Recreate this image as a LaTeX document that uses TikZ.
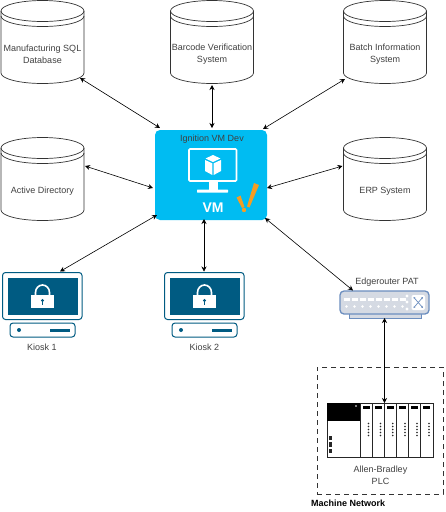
\documentclass[tikz,border=0pt]{standalone}
\usepackage{fontspec}
\usetikzlibrary{arrows.meta,calc}
\setmainfont{Liberation Sans}
\definecolor{vmblue}{HTML}{00BCF2}
\definecolor{kiosk}{HTML}{005B82}
\definecolor{routerb}{HTML}{6C8EBF}
\definecolor{routerf}{HTML}{D5DAE3}
\definecolor{vmorange}{HTML}{F59D23}
\definecolor{txt}{HTML}{404040}
\tikzset{
  lbl/.style={font=\fontsize{9}{12}\selectfont,text=txt,align=center,inner sep=0pt},
  cyl/.style={draw=black!80,line width=0.7pt,fill=white},
  link/.style={draw=black,line width=0.6pt,{Stealth[length=5pt,width=5pt]}-{Stealth[length=5pt,width=5pt]}},
  box/.style={inner sep=0pt,outer sep=0pt,minimum width=#1},
}
\newcommand{\dbnode}[4]{% name, x, y (top-left), text
  \begin{scope}[shift={(#2,#3)}]
    \path[cyl] (0,11) arc[x radius=41.5,y radius=10.5,start angle=180,end angle=360]
      -- (83,73) arc[x radius=41.5,y radius=10.5,start angle=0,end angle=180] -- cycle;
    \path[cyl,fill=none] (0,11) arc[x radius=41.5,y radius=10.5,start angle=180,end angle=0];
    \path[cyl,fill=none] (0,16) arc[x radius=41.5,y radius=10.5,start angle=180,end angle=0];
  \end{scope}
  \node[box=83,minimum height=84,lbl] (#1) at (#2+41.5,#3+42) {};
  \node[lbl] (#1t) at (#2+41.5,#3+54) {#4};
}
\newcommand{\kiosknode}[4]{% name, x offset, text cx, text
  \begin{scope}[shift={(#2,0)}]
    \draw[kiosk,line width=1pt,fill=white,rounded corners=3pt] (2.5,272.5) rectangle (82,319.5);
    \fill[kiosk] (7.5,277.5) rectangle (77.5,315);
    \draw[white,line width=1.6pt] (35.5,295) -- (35.5,292.5) arc[x radius=7,y radius=7.5,start angle=180,end angle=360] -- (49.5,295);
    \fill[white] (31,295) rectangle (54,308);
    \fill[kiosk] (42.5,300.5) circle (1.6);
    \fill[kiosk] (41.8,300.5) rectangle (43.2,304.5);
    \draw[kiosk,line width=1pt,fill=white,rounded corners=3pt] (10,323) rectangle (75,337);
    \fill[kiosk] (19,330) circle (2);
    \fill[kiosk] (49.5,329) rectangle (69.5,331.5);
  \end{scope}
  \node[box=80,minimum height=66,lbl] (#1) at (#2+42.5,305) {};
  \node[lbl] (#1t) at (#2+#3,347) {#4};
}
\begin{document}
\begin{tikzpicture}[x=1pt,y=-1pt]
\useasboundingbox[fill=white] (0,0) rectangle (445,512);

\dbnode{sql}{1}{0}{Manufacturing SQL\\Database}
\dbnode{barcode}{170.5}{0}{Barcode Verification\\System}
\dbnode{batch}{343.5}{0}{Batch Information\\System}
\dbnode{ad}{1}{137}{Active Directory}
\dbnode{erp}{343.5}{137}{ERP System}

% VM
\node[fill=vmblue,rounded corners=5pt,minimum width=112,minimum height=90,inner sep=0pt,outer sep=0pt] (vm) at (211,175) {};
\node[lbl] (vmt) at (212,139) {Ignition VM Dev};
\draw[white,line width=1.6pt,rounded corners=1pt] (189,149) rectangle (236.5,181);
\fill[white] (208.5,182) rectangle (217.5,190);
\fill[white,rounded corners=0.5pt] (197,189.5) rectangle (228,192.5);
\fill[white] (205.5,158.5) -- (213,155) -- (220.5,158.5) -- (213,162) -- cycle;
\fill[white] (205,160) -- (212.3,163.3) -- (212.3,175) -- (205,171) -- cycle;
\fill[white] (221,160) -- (213.7,163.3) -- (213.7,175) -- (221,171) -- cycle;
\node[lbl,text=white,font=\fontsize{14}{15}\selectfont\bfseries] (vmv) at (213,208) {VM};
\fill[vmorange] (236.5,197.5) -- (240.5,195.5) -- (244.5,207) -- (242,208) -- cycle;
\fill[vmorange] (254,183) -- (259,185) -- (249.5,207.5) -- (247,206.5) -- cycle;
\fill[vmorange] (244,210) circle (2.2);

% Kiosks
\kiosknode{k1}{0}{42}{Kiosk 1}
\kiosknode{k2}{162}{42.5}{Kiosk 2}

% Router
\fill[routerf,draw=routerb,line width=0.8pt] (349,313) rectangle (421,318);
\node[draw=routerb,fill=routerf,line width=1.3pt,rounded corners=4pt,minimum width=89,minimum height=23,inner sep=0pt,outer sep=0pt] (router) at (384.5,302.5) {};
\node[lbl] (routert) at (387,282) {Edgerouter PAT};
\foreach \i in {0,...,7} {
  \fill[white] (343.5+\i*8,298) rectangle (349.5+\i*8,300.5);
  \fill[white] (346.5+\i*8,306.5) circle (1.4);
}
\foreach \yy in {296,302,309} \fill[white] (407,\yy) circle (1.6);
\fill[white,rounded corners=2pt] (411.5,295) rectangle (425,310);
\draw[routerb,line width=0.7pt,{Stealth[length=2pt,width=2pt]}-{Stealth[length=2pt,width=2pt]}] (413.5,297) -- (423,308);
\draw[routerb,line width=0.7pt,{Stealth[length=2pt,width=2pt]}-{Stealth[length=2pt,width=2pt]}] (423,297) -- (413.5,308);

% Machine network
\node[draw=black!80,line width=1pt,dash pattern=on 5pt off 4pt,minimum width=126,minimum height=127,inner sep=0pt,outer sep=0pt] (net) at (380,430.5) {};
\node[anchor=west,inner sep=0pt,font=\fontsize{9}{11}\selectfont\bfseries] (nett) at (311,503) {Machine Network};

% PLC
\node[draw=black!85,fill=white,line width=0.8pt,minimum width=106,minimum height=54,inner sep=0pt,outer sep=0pt] (plc) at (380,430) {};
\fill[black] (327,403) rectangle (360,421);
\fill[white] (356,406) circle (0.9);
\foreach \xx in {360,372,384.2,396.5,408.5,420.5} {
  \draw[black!85,line width=0.8pt] (\xx,403) -- (\xx,457);
  \fill[black] (\xx+2.5,405.5) rectangle (\xx+9.5,409);
  \foreach \k in {0,...,4} \fill[black!85] (\xx+8.5,423.5+\k*3) circle (0.9);
}
\foreach \k in {0,1,2} \fill[black!85] (329,435.5+\k*6.7) rectangle (332,440+\k*6.7);
\node[lbl] (plct) at (380.5,475.5) {Allen-Bradley\\PLC};

% Connectors
\coordinate (a1) at ($(sql.south east)+(-4,-6)$);
\coordinate (b1) at ($(vm.north west)+(5,-2)$);
\draw[link] (a1) -- (b1);
\coordinate (a2) at ($(barcode.south)+(0,1)$);
\coordinate (b2) at (a2 |- vm.north);
\draw[link] (a2) -- ($(b2)+(0,-2)$);
\coordinate (a3) at ($(batch.south west)+(1.5,-5)$);
\coordinate (b3) at ($(vm.north east)+(-4,-1)$);
\draw[link] (a3) -- (b3);
\coordinate (a4) at ($(ad.east)+(1,-13)$);
\coordinate (b4) at ($(vm.west)+(-2,13)$);
\draw[link] (a4) -- (b4);
\coordinate (a5) at ($(erp.west)+(-1,-13)$);
\coordinate (b5) at ($(vm.east)+(0,13)$);
\draw[link] (a5) -- (b5);
\coordinate (a6) at ($(k1.north)+(17.5,-0.5)$);
\coordinate (b6) at ($(vm.south west)+(2,-5)$);
\draw[link] (a6) -- (b6);
\coordinate (a7) at ($(k2.north)+(-0.5,-0.5)$);
\coordinate (b7) at ($(vm.south)+(-7,-1)$);
\draw[link] (a7) -- (b7);
\coordinate (a8) at ($(router.north west)+(13,-0.5)$);
\coordinate (b8) at ($(vm.south east)+(-2,-2)$);
\draw[link] (a8) -- (b8);
\coordinate (a9) at ($(router.south)+(0,4)$);
\coordinate (b9) at (a9 |- plc.north);
\draw[link] (a9) -- (b9);
\end{tikzpicture}
\end{document}
